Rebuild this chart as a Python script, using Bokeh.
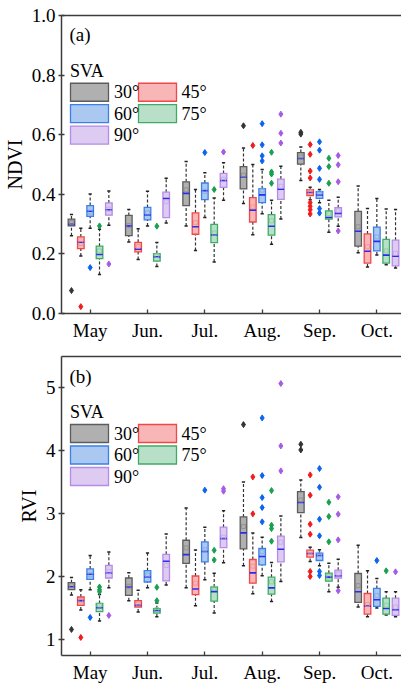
from bokeh.plotting import figure
from bokeh.layouts import column
from bokeh.models import FixedTicker, LinearAxis, Label, Range1d, PrintfTickFormatter
from bokeh.embed import file_html
from bokeh.resources import INLINE

months = ["May", "Jun.", "Jul.", "Aug.", "Sep.", "Oct."]
sva = ["30°", "45°", "60°", "75°", "90°"]

# ---------------- NDVI (panel a): per month, per SVA group [30,45,60,75,90]
ndvi_lo = [[0.261, 0.193, 0.286, 0.131, 0.296],
           [0.240, 0.181, 0.294, 0.158, 0.304],
           [0.294, 0.211, 0.322, 0.173, 0.380],
           [0.369, 0.264, 0.335, 0.232, 0.317],
           [0.446, 0.382, 0.372, 0.273, 0.293],
           [0.204, 0.156, 0.196, 0.164, 0.153]]
ndvi_q1 = [[0.294, 0.218, 0.326, 0.184, 0.330],
           [0.261, 0.207, 0.314, 0.176, 0.322],
           [0.362, 0.266, 0.382, 0.238, 0.423],
           [0.418, 0.307, 0.372, 0.263, 0.383],
           [0.501, 0.396, 0.386, 0.317, 0.324],
           [0.226, 0.169, 0.210, 0.169, 0.160]]
ndvi_med = [[0.299, 0.239, 0.343, 0.198, 0.348],
            [0.294, 0.216, 0.331, 0.190, 0.386],
            [0.403, 0.291, 0.412, 0.264, 0.446],
            [0.457, 0.347, 0.398, 0.293, 0.417],
            [0.520, 0.406, 0.398, 0.322, 0.336],
            [0.276, 0.209, 0.242, 0.196, 0.192]]
ndvi_q3 = [[0.317, 0.257, 0.362, 0.226, 0.371],
           [0.329, 0.239, 0.356, 0.201, 0.407],
           [0.442, 0.338, 0.438, 0.299, 0.470],
           [0.493, 0.389, 0.419, 0.332, 0.451],
           [0.540, 0.416, 0.409, 0.344, 0.355],
           [0.343, 0.267, 0.290, 0.249, 0.246]]
ndvi_hi = [[0.332, 0.286, 0.401, 0.283, 0.411],
           [0.349, 0.284, 0.410, 0.238, 0.454],
           [0.510, 0.416, 0.472, 0.388, 0.506],
           [0.555, 0.500, 0.483, 0.380, 0.494],
           [0.559, 0.424, 0.416, 0.380, 0.390],
           [0.428, 0.352, 0.386, 0.351, 0.349]]
ndvi_mean = [[0.305, 0.235, 0.340, 0.210, 0.350],
             [0.295, 0.225, 0.338, 0.195, 0.375],
             [0.415, 0.305, 0.410, 0.270, 0.450],
             [0.464, 0.358, 0.414, 0.311, 0.427],
             [0.525, 0.410, 0.405, 0.335, 0.345],
             [0.291, 0.224, 0.257, 0.210, 0.202]]
ndvi_out = [[[0.077], [0.023], [0.154], [0.294], [0.166]],
            [[], [], [], [0.293], []],
            [[], [], [0.540], [0.416], [0.542]],
            [[0.630], [0.564], [0.637, 0.566, 0.529, 0.512], [0.541, 0.475, 0.468, 0.437], [0.669, 0.605, 0.572]],
            [[0.608, 0.602], [0.567, 0.534, 0.478, 0.455, 0.372, 0.360, 0.348, 0.334],
             [0.576, 0.548, 0.487, 0.450, 0.352, 0.337], [0.521, 0.493, 0.437], [0.530, 0.499, 0.442, 0.277]],
            [[], [], [], [], []]]

# ---------------- RVI (panel b)
rvi_lo = [[1.711, 1.472, 1.796, 1.297, 1.828],
          [1.621, 1.440, 1.828, 1.366, 1.870],
          [1.828, 1.541, 1.955, 1.424, 2.225],
          [2.175, 1.730, 2.016, 1.608, 1.926],
          [2.624, 2.243, 2.175, 1.762, 1.836],
          [1.519, 1.365, 1.503, 1.392, 1.365]]
rvi_q1 = [[1.796, 1.546, 1.960, 1.446, 1.981],
          [1.706, 1.520, 1.918, 1.424, 1.934],
          [2.215, 1.716, 2.236, 1.615, 2.464],
          [2.444, 1.899, 2.190, 1.725, 2.238],
          [3.021, 2.312, 2.259, 1.931, 1.979],
          [1.593, 1.407, 1.529, 1.407, 1.386]]
rvi_med = [[1.843, 1.621, 2.040, 1.509, 2.061],
           [1.838, 1.546, 1.997, 1.462, 2.247],
           [2.353, 1.806, 2.401, 1.764, 2.607],
           [2.698, 2.063, 2.323, 1.825, 2.439],
           [3.180, 2.370, 2.339, 1.995, 2.016],
           [1.762, 1.534, 1.635, 1.497, 1.476]]
rvi_q3 = [[1.907, 1.679, 2.125, 1.578, 2.183],
          [1.981, 1.621, 2.098, 1.493, 2.358],
          [2.581, 2.013, 2.554, 1.838, 2.788],
          [2.952, 2.275, 2.450, 1.995, 2.646],
          [3.354, 2.423, 2.376, 2.058, 2.106],
          [2.053, 1.735, 1.815, 1.661, 1.661]]
rvi_hi = [[1.990, 1.796, 2.337, 1.720, 2.395],
          [2.066, 1.785, 2.379, 1.584, 2.682],
          [3.095, 2.427, 2.788, 2.056, 3.048],
          [3.508, 2.698, 2.630, 2.228, 2.968],
          [3.540, 2.470, 2.430, 2.217, 2.281],
          [2.503, 2.095, 1.974, 1.762, 1.762]]
rvi_mean = [[1.86, 1.62, 2.03, 1.55, 2.08],
            [1.85, 1.57, 2.03, 1.48, 2.18],
            [2.46, 1.90, 2.43, 1.82, 2.63],
            [2.80, 2.17, 2.40, 1.92, 2.55],
            [3.22, 2.40, 2.36, 2.00, 2.05],
            [1.86, 1.56, 1.70, 1.55, 1.52]]
rvi_out = [[[1.164], [1.037], [1.355], [1.838, 1.796, 1.764], [1.387]],
           [[], [], [], [1.833, 1.621], []],
           [[], [], [3.377], [2.422, 2.268], [3.40, 3.36]],
           [[4.418], [3.587, 3.000], [4.524, 3.608, 3.259, 3.100, 2.873], [3.370, 2.820, 2.767, 2.566],
            [5.070, 4.079, 3.683]],
           [[4.106, 4.016], [3.619, 3.297, 2.836, 2.677, 2.085, 2.005],
            [3.720, 3.423, 2.915, 2.651, 2.085, 2.021], [3.185, 2.958, 2.556], [3.270, 2.995, 2.587, 1.778]],
           [[], [], [2.259], [2.095], [2.079]]]

# ---------------- styling
FONT = "Liberation Serif"
fills = ["#b0b0b0", "#f8b6b6", "#aac8f0", "#b8e0c8", "#decbf2"]
edges = ["#5c5c5c", "#f04848", "#3a80e8", "#3faa66", "#b58ae8"]
out_colors = ["#333333", "#f01c1c", "#0a64f0", "#17a04e", "#a65be6"]
mean_colors = ["#8c8c8c", "#e89494", "#84a8e0", "#8cc8a4", "#c2aae2"]
MED = "#2a2af0"
AX = "#3c3c3c"

X0, X1 = 0.5, 6.43
W, H = 401, 343
LEFT = 61
FRAME_W = W - LEFT
FRAME_H = 299
OFF = 0.163
BW = 0.115


def panel(lo, q1, med, q3, hi, mean, outs, y0, y1, yticks, fmt, ylabel, tag, top, bottom):
    p = figure(width=W, height=H, output_backend="svg", toolbar_location=None,
               x_range=Range1d(X0, X1), y_range=Range1d(y0, y1),
               min_border_left=LEFT, min_border_right=0,
               min_border_top=top, min_border_bottom=bottom)
    p.outline_line_color = None
    p.xgrid.visible = False
    p.ygrid.visible = False
    p.background_fill_color = "white"

    xs, lo_, q1_, md_, q3_, hi_, mn_, f_, e_, mc_ = [], [], [], [], [], [], [], [], [], []
    ox, oy, oc = [], [], []
    for m in range(len(months)):
        for g in range(len(sva)):
            x = m + 1 + (g - 2) * OFF
            xs.append(x)
            lo_.append(lo[m][g]); q1_.append(q1[m][g]); md_.append(med[m][g])
            q3_.append(q3[m][g]); hi_.append(hi[m][g]); mn_.append(mean[m][g])
            f_.append(fills[g]); e_.append(edges[g]); mc_.append(mean_colors[g])
            for v in outs[m][g]:
                ox.append(x); oy.append(v); oc.append(out_colors[g])

    # whiskers
    p.segment(x0=xs, y0=q3_, x1=xs, y1=hi_, line_color="#333333", line_width=1.2, line_dash="3 2")
    p.segment(x0=xs, y0=lo_, x1=xs, y1=q1_, line_color="#333333", line_width=1.2, line_dash="3 2")
    cap = 0.028
    p.segment(x0=[x - cap for x in xs], y0=hi_, x1=[x + cap for x in xs], y1=hi_, line_color="#222222", line_width=1.5)
    p.segment(x0=[x - cap for x in xs], y0=lo_, x1=[x + cap for x in xs], y1=lo_, line_color="#222222", line_width=1.5)
    # boxes
    p.vbar(x=xs, width=BW, bottom=q1_, top=q3_, fill_color=f_, line_color=e_, line_width=1.3,
           line_join="miter")
    # median
    p.segment(x0=[x - BW / 2 for x in xs], y0=md_, x1=[x + BW / 2 for x in xs], y1=md_, line_color=MED, line_width=1.6)
    # mean
    p.scatter(x=xs, y=mn_, marker="square", size=4, fill_color=None, line_color=mc_, line_width=0.8)
    # outliers
    p.scatter(x=ox, y=oy, marker="diamond", size=6, fill_color=oc, line_color=oc)

    # axes
    p.xaxis.ticker = FixedTicker(ticks=list(range(1, len(months) + 1)))
    p.xaxis.major_label_overrides = {i + 1: m for i, m in enumerate(months)}
    p.yaxis.ticker = FixedTicker(ticks=yticks)
    p.yaxis.formatter = PrintfTickFormatter(format=fmt)
    for ax in (p.xaxis[0], p.yaxis[0]):
        ax.axis_line_color = AX
        ax.axis_line_width = 1.5
        ax.major_tick_line_color = AX
        ax.major_tick_line_width = 1.3
        ax.minor_tick_line_color = None
        ax.major_label_text_font = FONT
        ax.major_label_text_font_size = "19px"
        ax.major_label_text_color = "black"
    p.xaxis.major_tick_in = 4
    p.xaxis.major_tick_out = 0
    p.xaxis.major_label_standoff = 6
    p.yaxis.major_tick_in = 3
    p.yaxis.major_tick_out = 3
    p.yaxis.major_label_standoff = 3
    p.yaxis.axis_label = ylabel
    p.yaxis.axis_label_text_font = FONT
    p.yaxis.axis_label_text_font_size = "20px"
    p.yaxis.axis_label_text_font_style = "normal"
    p.yaxis.axis_label_text_color = "black"
    p.yaxis.axis_label_standoff = 3

    topax = LinearAxis(ticker=FixedTicker(ticks=[]), major_label_text_font_size="0px",
                       major_tick_line_color=None, minor_tick_line_color=None,
                       axis_line_color=AX, axis_line_width=1.5)
    p.add_layout(topax, "above")

    # pixel -> data helpers (frame-relative positions for annotations)
    def xd(px):
        return X0 + (px - LEFT) * (X1 - X0) / FRAME_W

    def yd(off):
        return y1 - off * (y1 - y0) / FRAME_H

    p.add_layout(Label(x=xd(69), y=yd(19.5), text=tag, text_font=FONT, text_font_size="19px",
                       text_color="black", text_baseline="middle"))
    p.add_layout(Label(x=xd(69.5), y=yd(55.5), text="SVA", text_font=FONT, text_font_size="18px",
                       text_color="black", text_baseline="middle"))
    col_box = [89, 157]
    col_txt = [113.5, 181]
    rows = [77, 98.5, 120]
    lx, ly, lf, le = [], [], [], []
    for g, name in enumerate(sva):
        r, c = divmod(g, 2)
        lx.append(xd(col_box[c])); ly.append(yd(rows[r]))
        lf.append(fills[g]); le.append(edges[g])
        p.add_layout(Label(x=xd(col_txt[c]), y=yd(rows[r]), text=name, text_font=FONT,
                           text_font_size="18px", text_color="black", text_baseline="middle"))
    p.rect(x=lx, y=ly, width=38, height=18, width_units="screen", height_units="screen",
           fill_color=lf, line_color=le, line_width=1.3, line_join="miter")
    return p


pa = panel(ndvi_lo, ndvi_q1, ndvi_med, ndvi_q3, ndvi_hi, ndvi_mean, ndvi_out,
           0.0, 1.0, [0.0, 0.2, 0.4, 0.6, 0.8, 1.0], "%.1f", "NDVI", "(a)", 15, 29)
pb = panel(rvi_lo, rvi_q1, rvi_med, rvi_q3, rvi_hi, rvi_mean, rvi_out,
           0.75, 5.5, [1, 2, 3, 4, 5], "%d", "RVI", "(b)", 13, 31)

layout = column(pa, pb, spacing=0)
open("out.html", "w").write(file_html(layout, INLINE))
